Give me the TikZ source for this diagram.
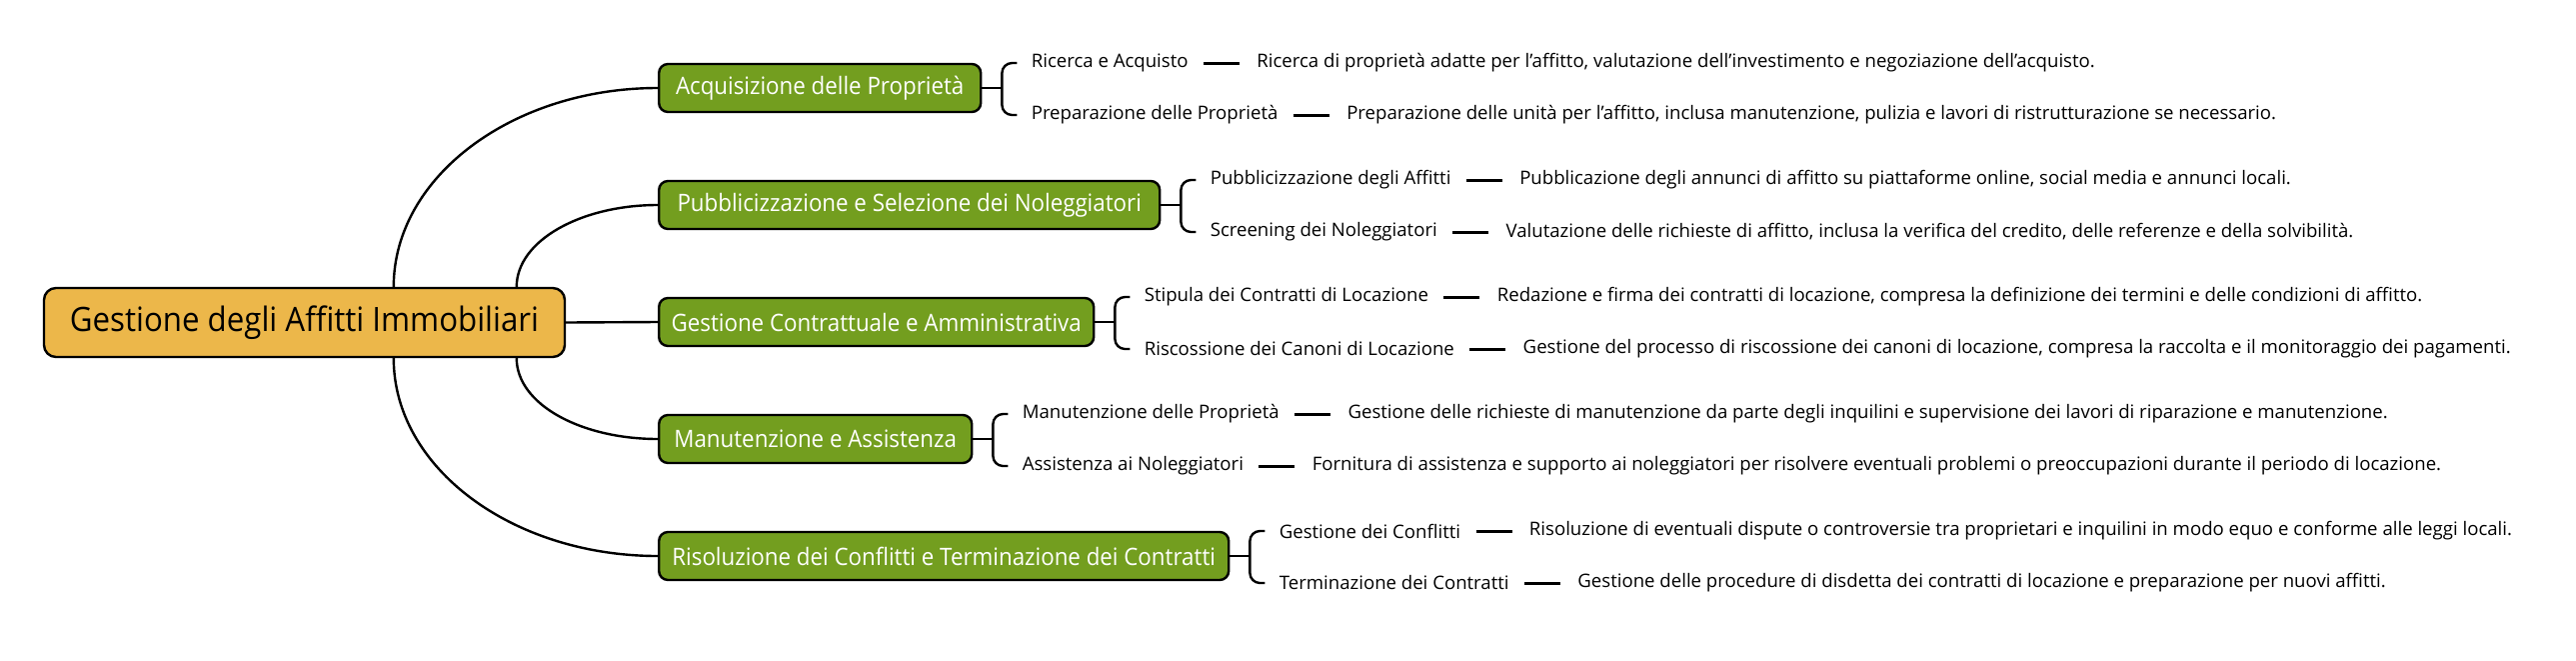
\documentclass[tikz,border=0pt]{standalone}
\usepackage{fontspec}
\setmainfont{Open Sans}
\newfontfamily\narrowfont[FakeStretch=0.93]{Open Sans}
\usetikzlibrary{calc}
\definecolor{rootfill}{RGB}{236,183,74}
\definecolor{branchfill}{RGB}{115,158,31}
\begin{document}
\begin{tikzpicture}[x=0.5pt,y=-0.5pt,
  rootbox/.style={draw=black, line width=1.2pt, fill=rootfill, rounded corners=6pt, minimum width=260.5pt, minimum height=34.5pt, inner sep=0pt, font=\narrowfont\fontsize{16.8}{20}\selectfont, text=black},
  branchbox/.style={draw=black, line width=1.2pt, fill=branchfill, rounded corners=4.5pt, minimum height=24pt, inner sep=0pt, anchor=west, text=white, font=\narrowfont\fontsize{12}{15}\selectfont},
  leaf/.style={anchor=west, inner sep=0pt, font=\fontsize{9.3}{11}\selectfont},
  desc/.style={anchor=west, inner sep=0pt, font=\fontsize{9.3}{11}\selectfont},
  link/.style={line width=1.2pt},
  dashline/.style={line width=1.5pt},
]
\useasboundingbox (0,0) rectangle (2577,660);
\fill[white] (0,0) rectangle (2577,660);

\node[rootbox] (root) at (304.5,322.5) {Gestione degli Affitti Immobiliari};

\node[branchbox, minimum width=161pt]   (b1) at (658,88)  {Acquisizione delle Proprietà};
\node[branchbox, minimum width=250.5pt] (b2) at (658,205) {Pubblicizzazione e Selezione dei Noleggiatori};
\node[branchbox, minimum width=217.5pt] (b3) at (658,322) {Gestione Contrattuale e Amministrativa};
\node[branchbox, minimum width=156.5pt] (b4) at (658,439) {Manutenzione e Assistenza};
\node[branchbox, minimum width=285pt]   (b5) at (658,556) {Risoluzione dei Conflitti e Terminazione dei Contratti};

% root connectors
\coordinate (r1) at ($(root.north west)+(351,0)$);
\coordinate (r2) at ($(root.north west)+(474,0)$);
\coordinate (r4) at ($(root.south west)+(474,0)$);
\coordinate (r5) at ($(root.south west)+(351,0)$);
\draw[link] (r1) .. controls ($(r1)+(0,-110)$) and ($(b1.west)+(-145,0)$) .. (b1.west);
\draw[link] (r2) .. controls ($(r2)+(0,-46)$) and ($(b2.west)+(-77,0)$) .. (b2.west);
\draw[link] (root.east) -- (b3.west);
\draw[link] (r4) .. controls ($(r4)+(0,46)$) and ($(b4.west)+(-77,0)$) .. (b4.west);
\draw[link] (r5) .. controls ($(r5)+(0,110)$) and ($(b5.west)+(-145,0)$) .. (b5.west);

% leaves
\foreach \b/\ta/\tb/\da/\db in {
  b1/{Ricerca e Acquisto}/{Preparazione delle Proprietà}/{Ricerca di proprietà adatte per l'affitto, valutazione dell'investimento e negoziazione dell'acquisto.}/{Preparazione delle unità per l'affitto, inclusa manutenzione, pulizia e lavori di ristrutturazione se necessario.},
  b2/{Pubblicizzazione degli Affitti}/{Screening dei Noleggiatori}/{Pubblicazione degli annunci di affitto su piattaforme online, social media e annunci locali.}/{Valutazione delle richieste di affitto, inclusa la verifica del credito, delle referenze e della solvibilità.},
  b3/{Stipula dei Contratti di Locazione}/{Riscossione dei Canoni di Locazione}/{Redazione e firma dei contratti di locazione, compresa la definizione dei termini e delle condizioni di affitto.}/{Gestione del processo di riscossione dei canoni di locazione, compresa la raccolta e il monitoraggio dei pagamenti.},
  b4/{Manutenzione delle Proprietà}/{Assistenza ai Noleggiatori}/{Gestione delle richieste di manutenzione da parte degli inquilini e supervisione dei lavori di riparazione e manutenzione.}/{Fornitura di assistenza e supporto ai noleggiatori per risolvere eventuali problemi o preoccupazioni durante il periodo di locazione.},
  b5/{Gestione dei Conflitti}/{Terminazione dei Contratti}/{Risoluzione di eventuali dispute o controversie tra proprietari e inquilini in modo equo e conforme alle leggi locali.}/{Gestione delle procedure di disdetta dei contratti di locazione e preparazione per nuovi affitti.}
}{
  \node[leaf] (\b a) at ($(\b.east)+(49,-25)$) {\ta};
  \node[leaf] (\b b) at ($(\b.east)+(49,27)$) {\tb};
  \node[desc] (\b da) at ($(\b a.east)+(68,0)$) {\da};
  \node[desc] (\b db) at ($(\b b.east)+(68,0)$) {\db};
  \draw[dashline] ($(\b a.east)+(15,0)$) -- ($(\b da.west)+(-17,0)$);
  \draw[dashline] ($(\b b.east)+(15,0)$) -- ($(\b db.west)+(-17,0)$);
  \draw[link] (\b.east) -- ($(\b.east)+(20,0)$);
  \draw[link, rounded corners=5pt] ($(\b a.west)+(-14,0)$) -| ($(\b.east)+(20,0)$) |- ($(\b b.west)+(-14,0)$);
}
\end{tikzpicture}
\end{document}
